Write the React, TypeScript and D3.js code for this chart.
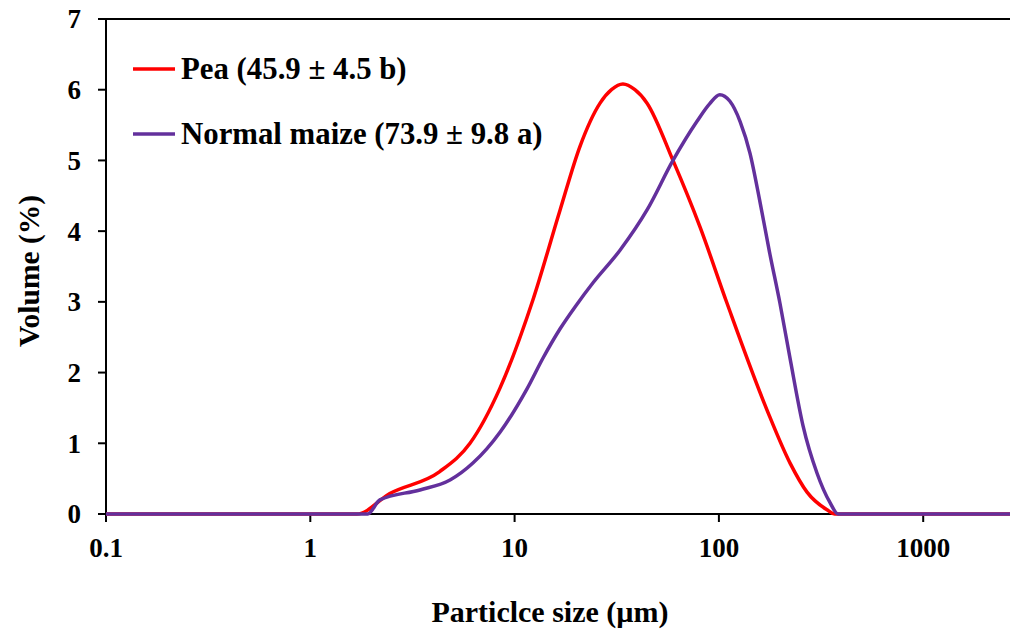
import React from "react";
import * as d3 from "d3";

const xTicks = [0.1, 1, 10, 100, 1000];
const xTickLabels = ["0.1", "1", "10", "100", "1000"];
const yTicks = [0, 1, 2, 3, 4, 5, 6, 7];

const peaSize = [0.1, 1.0, 1.69, 2.45, 4.3, 6.05, 8.48, 12.3, 16.7, 20.9, 26.2, 29.8, 33.9, 38.8, 44.5, 59.6, 80.8, 109.6, 172, 223, 270, 338, 370, 1000, 10000];
const peaVolume = [0, 0, 0, 0.29, 0.6, 1.0, 1.78, 3.03, 4.3, 5.2, 5.81, 6.0, 6.08, 6.0, 5.81, 5.0, 4.06, 2.98, 1.47, 0.72, 0.31, 0.06, 0, 0, 0];

const maizeSize = [0.1, 1.0, 1.91, 2.19, 3.44, 4.83, 6.25, 8.5, 11.5, 13.8, 16.7, 20.0, 24.2, 32.8, 44.5, 59.6, 78, 90, 101, 113, 127, 142, 158, 177, 199, 223, 258, 302, 350, 383, 1000, 10000];
const maizeVolume = [0, 0, 0, 0.2, 0.34, 0.48, 0.72, 1.16, 1.77, 2.21, 2.62, 2.95, 3.27, 3.73, 4.3, 5.0, 5.55, 5.8, 5.93, 5.84, 5.55, 5.1, 4.45, 3.7, 2.98, 2.2, 1.25, 0.58, 0.16, 0, 0, 0];

const series = [
  { name: "Pea (45.9 ± 4.5 b)", color: "#ff0000", size: peaSize, volume: peaVolume },
  { name: "Normal maize (73.9 ± 9.8 a)", color: "#63309c", size: maizeSize, volume: maizeVolume },
];

const W = 1010;
const H = 634;
const left = 106;
const top = 19;
const bottom = 514;
const decade = 204.3;

export default function App() {
  const x = d3.scaleLog().domain([0.1, 10000]).range([left, left + decade * 5]);
  const y = d3.scaleLinear().domain([0, 7]).range([bottom, top]);
  const font = "'Liberation Serif', 'Times New Roman', serif";

  const line = (s: typeof series[0]) =>
    d3
      .line<number>()
      .x((_, i) => x(s.size[i]))
      .y((v) => y(v))
      .curve(d3.curveMonotoneX)(s.volume) || "";

  return (
    <svg
      width={W}
      height={H}
      style={{ position: "absolute", left: 0, top: 0, background: "#fff" }}
      fontFamily={font}
      fontWeight="bold"
    >
      <defs>
        <clipPath id="plot">
          <rect x={left} y={0} width={W - left} height={bottom + 3} />
        </clipPath>
      </defs>
      <rect x={0} y={0} width={W} height={H} fill="#fff" />
      <line x1={left} x2={W} y1={top} y2={top} stroke="#000" strokeWidth={2} />
      <line x1={left} x2={left} y1={top} y2={bottom} stroke="#000" strokeWidth={2} />
      {yTicks.map((t) => (
        <g key={t}>
          <line x1={left - 8} x2={left} y1={y(t)} y2={y(t)} stroke="#000" strokeWidth={2} />
          <text x={81} y={y(t)} dy="0.35em" textAnchor="end" fontSize={27}>
            {t}
          </text>
        </g>
      ))}
      <line x1={left} x2={W} y1={bottom} y2={bottom} stroke="#000" strokeWidth={2} />
      {xTicks.map((t, i) => (
        <g key={t}>
          <line x1={x(t)} x2={x(t)} y1={bottom} y2={bottom + 8} stroke="#000" strokeWidth={2} />
          <text x={x(t)} y={557} textAnchor="middle" fontSize={27}>
            {xTickLabels[i]}
          </text>
        </g>
      ))}
      <g clipPath="url(#plot)">
        {series.map((s) => (
          <path key={s.name} d={line(s)} fill="none" stroke={s.color} strokeWidth={3.5} strokeLinejoin="round" />
        ))}
      </g>
      {series.map((s, i) => (
        <g key={s.name} transform={`translate(0, ${i * 65})`}>
          <line x1={133} x2={175} y1={69} y2={69} stroke={s.color} strokeWidth={3.5} />
          <text x={181} y={79} fontSize={30.8}>
            {s.name}
          </text>
        </g>
      ))}
      <text x={550} y={622} textAnchor="middle" fontSize={30}>
        Particlce size (µm)
      </text>
      <text transform="translate(39, 271) rotate(-90)" textAnchor="middle" fontSize={29.5}>
        Volume (%)
      </text>
    </svg>
  );
}
